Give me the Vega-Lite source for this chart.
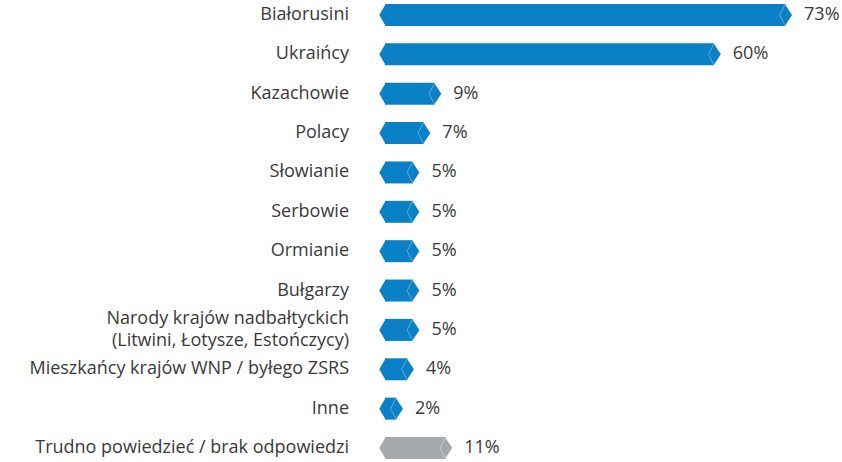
{
  "$schema": "https://vega.github.io/schema/vega-lite/v6.json",
  "width": 440,
  "height": 462,
  "autosize": "none",
  "padding": {"left": 392, "top": 0, "right": 10, "bottom": 0},
  "config": {"view": {"stroke": null}, "font": "Open Sans"},
  "data": {
    "values": [
      {"group": "Białorusini", "value": 73, "label": "73%", "kind": "nation"},
      {"group": "Ukraińcy", "value": 60, "label": "60%", "kind": "nation"},
      {"group": "Kazachowie", "value": 9, "label": "9%", "kind": "nation"},
      {"group": "Polacy", "value": 7, "label": "7%", "kind": "nation"},
      {"group": "Słowianie", "value": 5, "label": "5%", "kind": "nation"},
      {"group": "Serbowie", "value": 5, "label": "5%", "kind": "nation"},
      {"group": "Ormianie", "value": 5, "label": "5%", "kind": "nation"},
      {"group": "Bułgarzy", "value": 5, "label": "5%", "kind": "nation"},
      {"group": "Narody krajów nadbałtyckich\n(Litwini, Łotysze, Estończycy)", "value": 5, "label": "5%", "kind": "nation"},
      {"group": "Mieszkańcy krajów WNP / byłego ZSRS", "value": 4, "label": "4%", "kind": "nation"},
      {"group": "Inne", "value": 2, "label": "2%", "kind": "nation"},
      {"group": "Trudno powiedzieć / brak odpowiedzi", "value": 11, "label": "11%", "kind": "none"}
    ]
  },
  "encoding": {
    "y": {
      "field": "group",
      "type": "nominal",
      "sort": null,
      "scale": {"range": [-4.7, 467.7], "paddingInner": 0, "paddingOuter": 0},
      "axis": null
    }
  },
  "layer": [
    {
      "mark": {"type": "bar", "height": 22, "xOffset": -6.6, "x2Offset": -7},
      "encoding": {
        "x": {"field": "value", "type": "quantitative", "scale": {"domain": [0, 80.29], "nice": false, "zero": true}, "axis": null},
        "x2": {"datum": 0},
        "color": {"field": "kind", "type": "nominal", "scale": {"domain": ["nation", "none"], "range": ["#0a80c6", "#a7a9ac"]}, "legend": null}
      }
    },
    {
      "mark": {"type": "point", "shape": "M-0.06,-1L0.6,0L-0.06,1Z", "size": 484, "filled": true, "opacity": 1, "strokeWidth": 0, "xOffset": -6.6},
      "encoding": {
        "x": {"field": "value", "type": "quantitative"},
        "color": {"field": "kind", "type": "nominal", "legend": null}
      }
    },
    {
      "mark": {"type": "point", "shape": "M0.06,-1L-0.52,0L0.06,1Z", "size": 484, "filled": true, "opacity": 1, "strokeWidth": 0, "xOffset": -7},
      "encoding": {
        "x": {"datum": 0, "type": "quantitative"},
        "color": {"field": "kind", "type": "nominal", "legend": null}
      }
    },
    {
      "mark": {"type": "point", "shape": "M0,-1L-0.52,0L0,1", "size": 484, "filled": false, "stroke": "white", "strokeOpacity": 0.35, "strokeWidth": 1, "opacity": 1, "xOffset": -6.6},
      "encoding": {
        "x": {"field": "value", "type": "quantitative"}
      }
    },
    {
      "mark": {"type": "text", "align": "left", "baseline": "middle", "dx": 12, "fontSize": 18, "color": "#3a3a3a"},
      "encoding": {
        "x": {"field": "value", "type": "quantitative"},
        "text": {"field": "label"}
      }
    },
    {
      "transform": [{"filter": "indexof(datum.group, '\\n') < 0"}],
      "mark": {"type": "text", "align": "right", "baseline": "middle", "dx": -43, "fontSize": 18, "color": "#3a3a3a"},
      "encoding": {
        "x": {"datum": 0, "type": "quantitative"},
        "text": {"field": "group"}
      }
    },
    {
      "transform": [{"filter": "indexof(datum.group, '\\n') >= 0"}],
      "mark": {"type": "text", "align": "right", "baseline": "middle", "dx": -43, "dy": -11, "fontSize": 18, "lineHeight": 22, "lineBreak": "\n", "color": "#3a3a3a"},
      "encoding": {
        "x": {"datum": 0, "type": "quantitative"},
        "text": {"field": "group"}
      }
    }
  ]
}
